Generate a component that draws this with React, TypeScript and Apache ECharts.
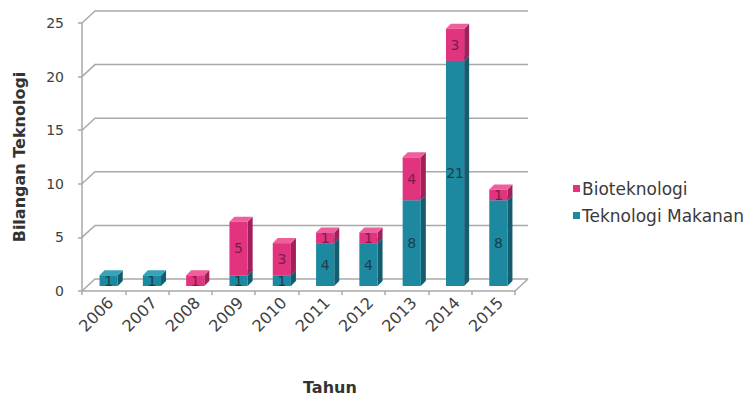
import React, { useEffect, useRef } from "react";
import * as echarts from "echarts";

// Number of technologies per year, stacked by field
const years = ["2006", "2007", "2008", "2009", "2010", "2011", "2012", "2013", "2014", "2015"];
const teknologiMakanan = [1, 1, 0, 1, 1, 4, 4, 8, 21, 8];
const bioteknologi = [0, 0, 1, 5, 3, 1, 1, 4, 3, 1];
const yTicks = [0, 5, 10, 15, 20, 25];

const FONT = "DejaVu Sans";
const TEAL = { front: "#1d89a0", side: "#135d6e", top: "#36a3b8" };
const PINK = { front: "#e1337e", side: "#a21f59", top: "#ef5f9b" };

// pseudo-3D geometry (pixels)
const WALL_DX = 13;
const WALL_DY = 12;
const BAR_SHIFT_X = 5;
const BAR_SHIFT_Y = 5;
const BAR_DX = 5;
const BAR_DY = 5;
const BAR_RATIO = 0.42;

function makeBarRenderer(colors: { front: string; side: string; top: string }, labelColor: string) {
  return (params: any, api: any) => {
    const i = api.value(0);
    const v = api.value(1);
    const base = api.value(2);
    if (!v) return null;
    const p0 = api.coord([i, base]);
    const p1 = api.coord([i, base + v]);
    const band = api.size([1, 0])[0];
    const w = band * BAR_RATIO;
    const x0 = p0[0] - w / 2 + BAR_SHIFT_X;
    const yb = p0[1] - BAR_SHIFT_Y;
    const yt = p1[1] - BAR_SHIFT_Y;
    return {
      type: "group",
      children: [
        {
          type: "polygon",
          shape: { points: [[x0 + w, yt], [x0 + w + BAR_DX, yt - BAR_DY], [x0 + w + BAR_DX, yb - BAR_DY], [x0 + w, yb]] },
          style: { fill: colors.side },
        },
        {
          type: "polygon",
          shape: { points: [[x0, yt], [x0 + BAR_DX, yt - BAR_DY], [x0 + w + BAR_DX, yt - BAR_DY], [x0 + w, yt]] },
          style: { fill: colors.top },
        },
        {
          type: "rect",
          shape: { x: x0, y: yt, width: w, height: yb - yt },
          style: { fill: colors.front },
        },
        {
          type: "text",
          x: x0 + w / 2,
          y: (yt + yb) / 2,
          style: {
            text: String(v),
            fill: labelColor,
            font: `14px '${FONT}'`,
            align: "center",
            verticalAlign: "middle",
          },
        },
      ],
    };
  };
}

function renderFrame(params: any, api: any) {
  const cs = params.coordSys;
  const v = api.value(1);
  const y = api.coord([0, v])[1];
  const lineStyle = { stroke: "#a9a9a9", lineWidth: 1.5, fill: null };
  const children: any[] = [
    {
      type: "polyline",
      shape: { points: [[cs.x, y], [cs.x + WALL_DX, y - WALL_DY], [cs.x + cs.width + WALL_DX, y - WALL_DY]] },
      style: lineStyle,
    },
  ];
  if (v === 0) {
    children.push({
      type: "line",
      shape: { x1: cs.x + cs.width, y1: y, x2: cs.x + cs.width + WALL_DX, y2: y - WALL_DY },
      style: lineStyle,
    });
  }
  return { type: "group", children };
}

// slanted year labels under the floor, anchored at each category
function renderYearLabel(params: any, api: any) {
  const i = api.value(0);
  const p = api.coord([i, 0]);
  return {
    type: "text",
    x: p[0] + 7,
    y: p[1] + 9,
    rotation: Math.PI / 4,
    style: {
      text: years[i],
      font: `16px '${FONT}'`,
      fill: "#404040",
      align: "right",
      verticalAlign: "middle",
    },
  };
}

export default function App() {
  const ref = useRef<HTMLDivElement>(null);

  useEffect(() => {
    if (!ref.current) return;
    const chart = echarts.init(ref.current, null, { renderer: "svg" });
    chart.setOption({
      animation: false,
      backgroundColor: "#ffffff",
      textStyle: { fontFamily: FONT },
      grid: { left: 82, right: 237, top: 23, bottom: 110 },
      legend: {
        orient: "vertical",
        left: 568,
        top: 175,
        itemWidth: 7,
        itemHeight: 7,
        itemGap: 10,
        icon: "rect",
        selectedMode: false,
        data: ["Bioteknologi", "Teknologi Makanan"],
        textStyle: { fontFamily: FONT, fontSize: 17, color: "#3a3a3a", padding: [0, 0, 0, -3] },
      },
      graphic: [
        {
          type: "text",
          left: 303,
          top: 379,
          style: { text: "Tahun", font: `bold 16px '${FONT}'`, fill: "#333" },
        },
      ],
      xAxis: {
        type: "category",
        data: years,
        axisLine: { show: true, lineStyle: { color: "#a9a9a9", width: 1.5 } },
        axisTick: { show: true, length: 4, lineStyle: { color: "#a9a9a9", width: 1.5 } },
        axisLabel: { show: false },
      },
      yAxis: {
        type: "value",
        min: 0,
        max: 25,
        interval: 5,
        name: "Bilangan Teknologi",
        nameLocation: "middle",
        nameRotate: 90,
        nameGap: 55,
        nameTextStyle: { fontFamily: FONT, fontSize: 16, fontWeight: "bold", color: "#333" },
        axisLine: { show: true, lineStyle: { color: "#a9a9a9", width: 1.5 } },
        axisTick: { show: true, length: 4, lineStyle: { color: "#a9a9a9", width: 1.5 } },
        axisLabel: { fontFamily: FONT, fontSize: 14, color: "#404040", margin: 18 },
        splitLine: { show: false },
      },
      series: [
        {
          type: "custom",
          name: "frame",
          silent: true,
          z: 1,
          renderItem: renderFrame,
          encode: { x: 0, y: 1 },
          data: yTicks.map((v) => [0, v]),
        },
        {
          type: "custom",
          name: "years",
          silent: true,
          z: 2,
          renderItem: renderYearLabel,
          encode: { x: 0, y: 1 },
          data: years.map((_, i) => [i, 0]),
        },
        {
          type: "custom",
          name: "Teknologi Makanan",
          z: 3,
          itemStyle: { color: TEAL.front },
          renderItem: makeBarRenderer(TEAL, "#1c3e4a"),
          encode: { x: 0, y: 1 },
          data: years.map((_, i) => [i, teknologiMakanan[i], 0]),
        },
        {
          type: "custom",
          name: "Bioteknologi",
          z: 4,
          itemStyle: { color: PINK.front },
          renderItem: makeBarRenderer(PINK, "#7a1d4a"),
          encode: { x: 0, y: 1 },
          data: years.map((_, i) => [i, bioteknologi[i], teknologiMakanan[i]]),
        },
      ],
    });
    return () => chart.dispose();
  }, []);

  return (
    <div
      ref={ref}
      style={{ position: "fixed", left: 0, top: 0, width: 752, height: 401, background: "#fff" }}
    />
  );
}
